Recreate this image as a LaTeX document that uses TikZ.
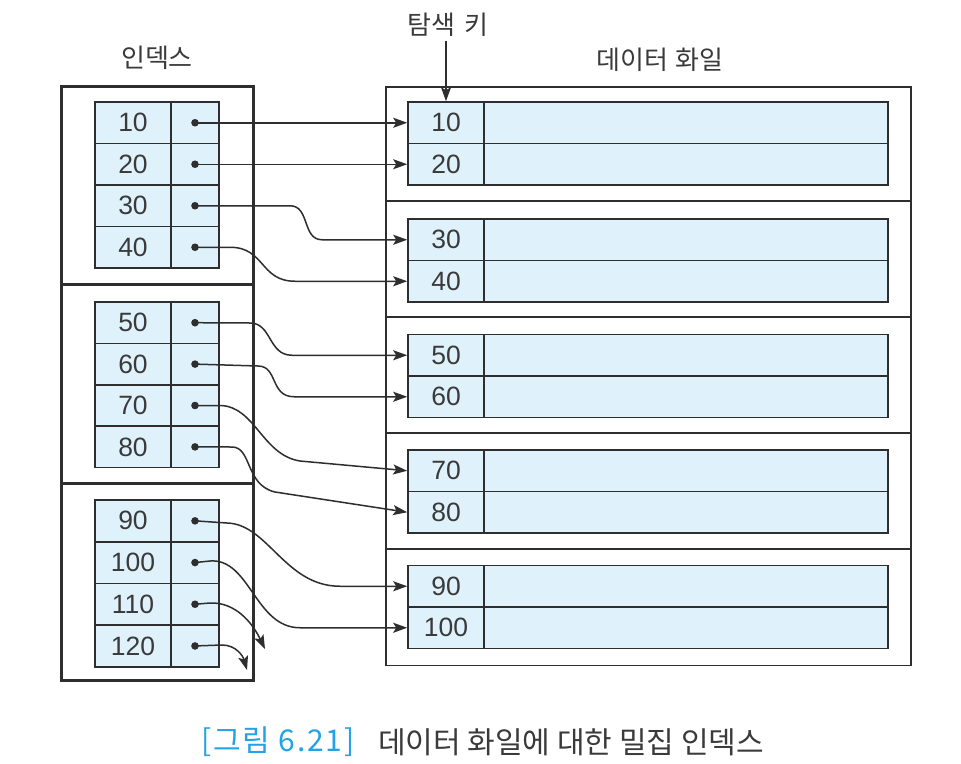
\documentclass[tikz,border=0pt]{standalone}
\usepackage{fontspec}
\setmainfont{Liberation Sans}
\newfontfamily\kr{Noto Sans CJK KR}
\newfontfamily\krwide[LetterSpace=6]{Noto Sans CJK KR}
\usetikzlibrary{arrows.meta}
\definecolor{cellfill}{HTML}{DFF2FC}
\definecolor{ink}{HTML}{2E2E2E}
\definecolor{txt}{HTML}{3A3A3A}
\definecolor{capblue}{HTML}{22A3E6}
\begin{document}
\begin{tikzpicture}[x=1pt,y=-1pt,
  cell/.style={draw=ink, line width=1.6pt, fill=cellfill, inner sep=0pt, minimum height=41.5pt, text=txt, font=\fontsize{26.5}{28}\selectfont},
  ikey/.style={cell, minimum width=76pt},
  iptr/.style={cell, minimum width=48pt},
  dkey/.style={cell, minimum width=76pt},
  drec/.style={cell, minimum width=404pt},
  ptr/.style={draw=ink, line width=1.5pt, -{Stealth[length=14pt,width=10pt,inset=3pt]}},
  toptext/.style={inner sep=0pt, text=txt, font={\kr\fontsize{26}{28}\selectfont}},
  captext/.style={inner sep=0pt, anchor=west, font={\kr\fontsize{30}{32}\selectfont}},
  capnumtext/.style={inner sep=0pt, anchor=west, font={\krwide\fontsize{30}{32}\selectfont}},
  outerthick/.style={draw=ink, line width=3pt},
  outerthin/.style={draw=ink, line width=1.5pt}
]
\useasboundingbox (0,0) rectangle (961,763);
\fill[white] (0,0) rectangle (961,763);

% index outer box
\draw[outerthick] (61,86) rectangle (253,680);
\draw[outerthick] (61,284) -- (253,284);
\draw[outerthick] (61,483) -- (253,483);

% data file outer box
\draw[outerthin] (386,87) rectangle (911,665.5);
\foreach \yy in {201,317,433,549}{
  \draw[outerthin] (386,\yy) -- (911,\yy);
}

% index cells
\foreach \k/\y in {10/122.75,20/164.25,30/205.75,40/247.25,50/322.7,60/364.1,70/405.5,80/446.9,90/520.85,100/562.55,110/604.25,120/645.95}{
  \node[ikey] (i\k) at (133,\y) {\k};
  \node[iptr] (p\k) at (195,\y) {};
  \fill[ink] (p\k.center) circle (3.8pt);
}

% data cells
\foreach \k/\y in {10/122.75,20/164.25,30/239.75,40/281.25,50/355.25,60/396.75,70/470.75,80/512.25,90/586.25,100/627.75}{
  \node[dkey] (d\k) at (446,\y) {\k};
  \node[drec] (r\k) at (686,\y) {};
}

% labels
\node[toptext] (ilabel) at (157,58) {인덱스};
\node[toptext] (dlabel) at (660,60) {데이터\hspace{0.25em}화일};
\node[toptext] (skey) at (448,25) {탐색\hspace{0.35em}키};
\draw[ptr] (skey.south -| d10.north) ++(0,4) -- (d10.north);

% pointers
\draw[ptr] (p10.center) -- (d10.west);
\draw[ptr] (p20.center) -- (d20.west);
\draw[ptr] (p30.center) -- (290,205.75) .. controls (310,205.75) and (302,239.75) .. (322,239.75) -- (d30.west);
\draw[ptr] (p40.center) -- (230,247.25) .. controls (265,247.25) and (260,281.25) .. (295,281.25) -- (d40.west);
\draw[ptr] (p50.center) -- (250,323) .. controls (272,323) and (268,355.25) .. (292,355.25) -- (d50.west);
\draw[ptr] (p60.center) -- (258,366) .. controls (278,366) and (270,396.75) .. (294,396.75) -- (d60.west);
\draw[ptr] (p70.center) -- (220,405.5) .. controls (255,406) and (262,455) .. (300,461) -- (d70.west);
\draw[ptr] (p80.center) -- (232,447) .. controls (252,447) and (245,485) .. (275,492) -- (d80.west);
\draw[ptr] (p90.center) -- (227,523) .. controls (268,524) and (285,586.25) .. (340,586.25) -- (d90.west);
\draw[ptr] (p100.center) -- (210,561) .. controls (250,558) and (255,627.75) .. (300,627.75) -- (d100.west);
\coordinate (a110) at (265,649);
\coordinate (a120) at (247,670);
\draw[ptr] (p110.center) -- (210,603) .. controls (235,602) and (252,622) .. (a110);
\draw[ptr] (p120.center) -- (222,645) .. controls (236,645) and (243,656) .. (a120);

% caption
\node[capnumtext, text=capblue] (capnum) at (201,742) {[그림 6.21]};
\node[captext, text=txt] (captxt) at (378,742) {데이터 화일에 대한 밀집 인덱스};
\end{tikzpicture}
\end{document}
